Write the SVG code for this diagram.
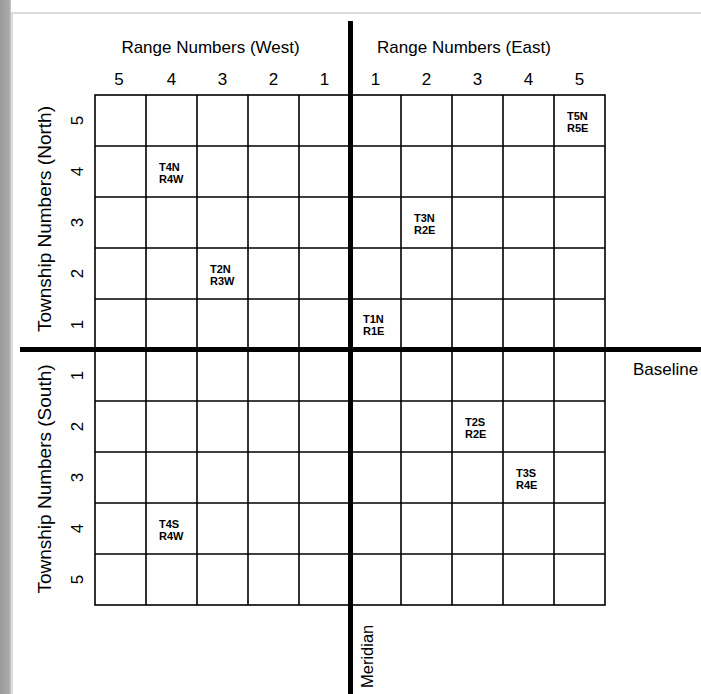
<svg xmlns="http://www.w3.org/2000/svg" width="701" height="694" viewBox="0 0 701 694">
<defs>
<linearGradient id="shadow" x1="0" x2="1" y1="0" y2="0">
<stop offset="0" stop-color="#9a9a9a"/>
<stop offset="0.8" stop-color="#a8a8a8"/>
<stop offset="1" stop-color="#c8c8c8"/>
</linearGradient>
<style>
.grid{stroke:#000;stroke-width:1.6;fill:none}
.thick{stroke:#000;stroke-width:5}
.hdr{font-family:"Liberation Sans",Arial,sans-serif;font-size:17px;fill:#000}
.side{font-family:"Liberation Sans",Arial,sans-serif;font-size:19px;fill:#000;text-anchor:middle}
.num{font-family:"Liberation Sans",Arial,sans-serif;font-size:17px;fill:#000;text-anchor:middle}
.cell{font-family:"Liberation Sans",Arial,sans-serif;font-size:11px;font-weight:bold;fill:#000}
</style>
</defs>
<rect x="0" y="0" width="701" height="694" fill="#fff"/>
<rect x="0" y="0" width="11" height="694" fill="url(#shadow)"/>
<rect x="11" y="12" width="690" height="2" fill="#dcdcdc"/>
<rect x="11" y="12" width="2" height="682" fill="#dcdcdc"/>

<g id="grid">
<rect class="grid" x="95" y="95" width="510" height="510"/>
<path class="grid" d="M146,95V605M197,95V605M248,95V605M299,95V605M401,95V605M452,95V605M503,95V605M554,95V605M95,146H605M95,197H605M95,248H605M95,299H605M95,401H605M95,452H605M95,503H605M95,554H605"/>
</g>

<g id="connectors">
<line id="meridian" class="thick" x1="350.5" y1="21" x2="350.5" y2="694"/>
<line id="baseline" class="thick" x1="20" y1="349.5" x2="701" y2="349.5"/>
</g>

<g id="headers">
<text class="hdr" x="210.5" y="53" text-anchor="middle">Range Numbers (West)</text>
<text class="hdr" x="464" y="53" text-anchor="middle">Range Numbers (East)</text>
<text class="side" transform="translate(50.5,219) rotate(-90)">Township Numbers (North)</text>
<text class="side" transform="translate(50.5,479) rotate(-90)">Township Numbers (South)</text>
<text class="hdr" x="633" y="375">Baseline</text>
<text class="hdr" transform="translate(373,688) rotate(-90)" style="font-size:16.5px">Meridian</text>
</g>

<g id="colnums">
<text class="num" x="119" y="85">5</text>
<text class="num" x="171.5" y="85">4</text>
<text class="num" x="222.5" y="85">3</text>
<text class="num" x="273.5" y="85">2</text>
<text class="num" x="324.5" y="85">1</text>
<text class="num" x="375.5" y="85">1</text>
<text class="num" x="426.5" y="85">2</text>
<text class="num" x="477.5" y="85">3</text>
<text class="num" x="528.5" y="85">4</text>
<text class="num" x="579.5" y="85">5</text>
</g>

<g id="rownums">
<text class="num" transform="translate(83,120.5) rotate(-90)">5</text>
<text class="num" transform="translate(83,171.5) rotate(-90)">4</text>
<text class="num" transform="translate(83,222.5) rotate(-90)">3</text>
<text class="num" transform="translate(83,273.5) rotate(-90)">2</text>
<text class="num" transform="translate(83,324.5) rotate(-90)">1</text>
<text class="num" transform="translate(83,375.5) rotate(-90)">1</text>
<text class="num" transform="translate(83,426.5) rotate(-90)">2</text>
<text class="num" transform="translate(83,477.5) rotate(-90)">3</text>
<text class="num" transform="translate(83,528.5) rotate(-90)">4</text>
<text class="num" transform="translate(83,579.5) rotate(-90)">5</text>
</g>

<g id="T5N-R5E"><text class="cell" x="567" y="120">T5N</text><text class="cell" x="567" y="132">R5E</text></g>
<g id="T4N-R4W"><text class="cell" x="159" y="171">T4N</text><text class="cell" x="159" y="183">R4W</text></g>
<g id="T3N-R2E"><text class="cell" x="414" y="222">T3N</text><text class="cell" x="414" y="234">R2E</text></g>
<g id="T2N-R3W"><text class="cell" x="210" y="273">T2N</text><text class="cell" x="210" y="285">R3W</text></g>
<g id="T1N-R1E"><text class="cell" x="363" y="323">T1N</text><text class="cell" x="363" y="335">R1E</text></g>
<g id="T2S-R2E"><text class="cell" x="465" y="426">T2S</text><text class="cell" x="465" y="438">R2E</text></g>
<g id="T3S-R4E"><text class="cell" x="516" y="477">T3S</text><text class="cell" x="516" y="489">R4E</text></g>
<g id="T4S-R4W"><text class="cell" x="159" y="528">T4S</text><text class="cell" x="159" y="540">R4W</text></g>
</svg>
